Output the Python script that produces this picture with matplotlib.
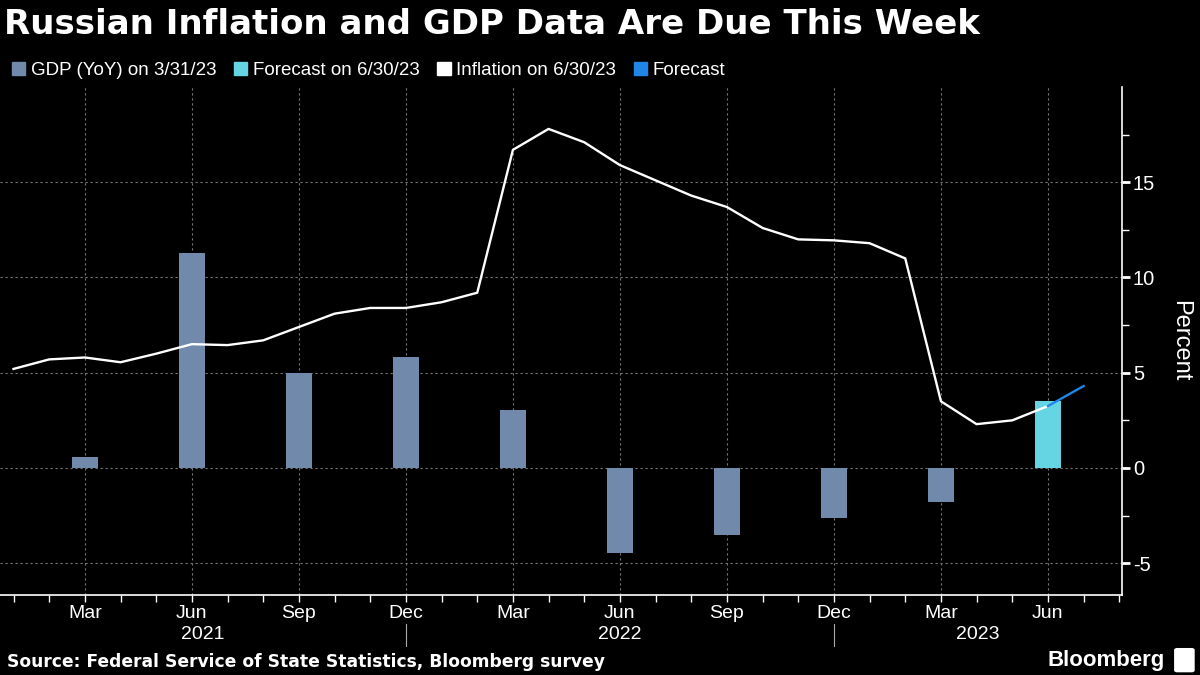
import matplotlib.pyplot as plt
from matplotlib.patches import Patch, FancyBboxPatch
from matplotlib.transforms import blended_transform_factory

plt.rcParams["axes.unicode_minus"] = False

# monthly index: 1 = Jan 2021
months = list(range(1, 31))
inflation = [5.2, 5.7, 5.8, 5.55, 6.0, 6.5, 6.45, 6.7, 7.4, 8.1, 8.4, 8.4,
             8.7, 9.2, 16.7, 17.8, 17.1, 15.9, 15.1, 14.3, 13.7, 12.6, 12.0, 11.95,
             11.8, 11.0, 3.5, 2.3, 2.5, 3.25]
fc_months = [30, 31]
fc_inflation = [3.25, 4.3]

gdp_months = [3, 6, 9, 12, 15, 18, 21, 24, 27]
gdp = [0.6, 11.3, 5.0, 5.85, 3.05, -4.45, -3.5, -2.65, -1.8]
gdp_fc_months = [30]
gdp_fc = [3.5]

tick_months = [3, 6, 9, 12, 15, 18, 21, 24, 27, 30]
tick_labels = ["Mar", "Jun", "Sep", "Dec"] * 2 + ["Mar", "Jun"]
year_labels = ["2021", "2022", "2023"]
year_breaks = [12, 24]

c_gdp = "#7189ab"
c_gdp_fc = "#66d5e3"
c_fc = "#1f86e8"
font = ["Liberation Sans", "DejaVu Sans"]

fig = plt.figure(figsize=(12, 6.75), dpi=100, facecolor="black")
ax = fig.add_axes([0.0, 0.1185, 0.9348, 0.7526], facecolor="black")

ax.bar(gdp_months, gdp, width=0.75, color=c_gdp, zorder=2)
ax.bar(gdp_fc_months, gdp_fc, width=0.75, color=c_gdp_fc, zorder=2)
ax.plot(months, inflation, color="white", lw=1.7, zorder=3)
ax.plot(fc_months, fc_inflation, color=c_fc, lw=1.7, zorder=3)

x0, x1 = 0.62, 32.07
ax.set_xlim(x0, x1)
ax.set_ylim(-6.67, 20)

ax.yaxis.tick_right()
ax.yaxis.set_label_position("right")
ax.set_yticks([-5, 0, 5, 10, 15])
ax.set_yticks([-2.5, 2.5, 7.5, 12.5, 17.5], minor=True)
ax.set_xticks(tick_months)
ax.set_xticklabels(tick_labels)
ax.set_xticks(range(1, 33), minor=True)

for s in ["top", "left"]:
    ax.spines[s].set_visible(False)
for s in ["bottom", "right"]:
    ax.spines[s].set_color("white")
    ax.spines[s].set_linewidth(1.2)

ax.tick_params(axis="y", which="major", colors="white", length=6, width=2,
               direction="out", pad=2, labelsize=14.5)
ax.tick_params(axis="y", which="minor", colors="white", length=5, width=1)
ax.tick_params(axis="x", which="both", colors="white", length=5, width=1,
               direction="out", labelsize=14, pad=2)
for lab in ax.get_xticklabels() + ax.get_yticklabels():
    lab.set_family(font)

ax.set_ylabel("Percent", color="white", fontsize=17, rotation=270,
              labelpad=26, family=font)

ax.grid(True, which="major", color="#777777", lw=0.8, ls=(0, (2, 2.5)), zorder=1)

# year labels and separators
tr = blended_transform_factory(ax.transData, ax.transAxes)
edges = [x0] + year_breaks + [x1]
for i, yl in enumerate(year_labels):
    ax.text((edges[i] + edges[i + 1]) / 2, -0.077, yl, transform=tr,
            ha="center", va="center", color="white", fontsize=14, family=font)
for b in year_breaks:
    ax.plot([b, b], [-0.058, -0.1], transform=tr, color="#aaaaaa",
            lw=0.8, clip_on=False)

fig.text(0.003, 0.963, "Russian Inflation and GDP Data Are Due This Week",
         color="white", fontsize=24.5, fontweight="bold", va="center",
         family=["DejaVu Sans"])

handles = [Patch(color=c_gdp), Patch(color=c_gdp_fc),
           Patch(color="white"), Patch(color=c_fc)]
labels = ["GDP (YoY) on 3/31/23", "Forecast on 6/30/23",
          "Inflation on 6/30/23", "Forecast"]
fig.legend(handles, labels, loc="center left", bbox_to_anchor=(-0.004, 0.896),
           ncol=4, frameon=False, handlelength=0.7, handleheight=0.7,
           handletextpad=0.3, columnspacing=0.95, labelcolor="white",
           prop={"family": font, "size": 13.5})

fig.text(0.006, 0.019, "Source: Federal Service of State Statistics, Bloomberg survey",
         color="white", fontsize=12.3, fontweight="bold", va="center",
         family=["DejaVu Sans"])
fig.text(0.971, 0.022, "Bloomberg", color="white", fontsize=16,
         fontweight="bold", ha="right", va="center", family=font)
fig.patches.append(FancyBboxPatch((0.981, 0.007), 0.012, 0.03,
                                  boxstyle="round,pad=0.002",
                                  transform=fig.transFigure, color="white"))

fig.savefig("out.png", dpi=100, facecolor="black")
